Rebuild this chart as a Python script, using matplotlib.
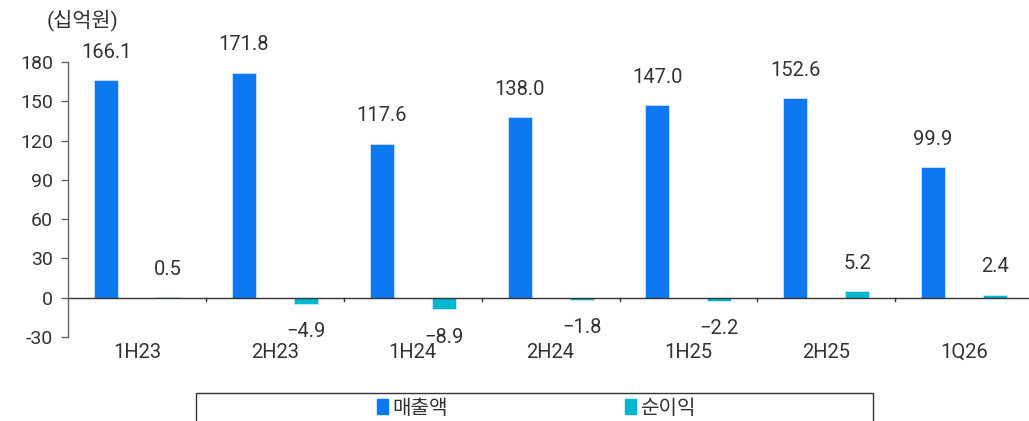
import matplotlib
matplotlib.use("Agg")
import matplotlib.pyplot as plt
from matplotlib.patches import Patch, Rectangle
import numpy as np

plt.rcParams['font.family'] = ['Roboto', 'Noto Sans CJK KR', 'DejaVu Sans']

categories = ["1H23", "2H23", "1H24", "2H24", "1H25", "2H25", "1Q26"]
revenue = [166.1, 171.8, 117.6, 138.0, 147.0, 152.6, 99.9]
net_income = [0.5, -4.9, -8.9, -1.8, -2.2, 5.2, 2.4]
yticks = [-30, 0, 30, 60, 90, 120, 150, 180]

BLUE = "#0E78F2"
TEAL = "#00B7CD"
TXT = "#333333"

W, H = 1029, 421
fig = plt.figure(figsize=(W / 100, H / 100), dpi=100)
left, right = 68.2, 1033
top, bottom = 62, 337
ax = fig.add_axes([left / W, 1 - bottom / H, (right - left) / W, (bottom - top) / H])

x = np.arange(len(categories))
bw = 0.174
off = 0.225
ax.bar(x - off, revenue, bw, color=BLUE, edgecolor="#cfe2fb", linewidth=0.6)
ax.bar(x + off, net_income, bw, color=TEAL, edgecolor="#c8eef3", linewidth=0.6)

ax.set_xlim(-0.5, len(categories) - 0.5)
ax.set_ylim(-30, 180)
ax.set_yticks(yticks)
ax.set_yticklabels([str(v) for v in yticks], fontsize=14, color=TXT)
ax.tick_params(axis='y', length=5, width=1, color="#666666", pad=6)

for s in ["top", "right", "bottom"]:
    ax.spines[s].set_visible(False)
ax.spines["left"].set_color("#666666")
ax.spines["left"].set_linewidth(1)

ax.axhline(0, color="#333333", linewidth=1)
ax.set_xticks([])
for b in np.arange(0.5, len(categories) - 0.5, 1):
    ax.plot([b, b], [0, -2.8], color="#333333", linewidth=1, clip_on=False)

trans = ax.get_xaxis_transform()
for xi, c in zip(x, categories):
    ax.text(xi, -0.055, c, transform=trans, ha="center", va="center", fontsize=14.5, color=TXT)

def fmt(v):
    s = f"{abs(v):.1f}"
    return ("\u2212" + s) if v < 0 else s

for xi, v in zip(x, revenue):
    ax.annotate(fmt(v), (xi - off, v), xytext=(0, 20), textcoords="offset points",
                ha="center", va="center", fontsize=14.5, color=TXT, annotation_clip=False)
for xi, v in zip(x, net_income):
    dy = 20 if v >= 0 else -20
    ax.annotate(fmt(v), (xi + off, v), xytext=(0, dy), textcoords="offset points",
                ha="center", va="center", fontsize=14.5, color=TXT, annotation_clip=False)

fig.text(82.5 / W, 1 - 20 / H, "(십억원)", ha="center", va="center", fontsize=15, color=TXT)

fig.patches.append(Rectangle((196 / W, -0.1), (873 - 196) / W, 0.1 + (1 - 393 / H),
                             transform=fig.transFigure, fill=False, edgecolor="#333333",
                             linewidth=1))
handles = [Patch(color=BLUE, label="매출액"), Patch(color=TEAL, label="순이익")]
fig.legend(handles=handles, loc="center", bbox_to_anchor=(536 / W, 1 - 408 / H), ncol=2,
           frameon=False, fontsize=14.5, handlelength=0.55, handleheight=0.75,
           handletextpad=0.2, columnspacing=8.8, labelcolor=TXT)

fig.savefig("out.png", dpi=100)
